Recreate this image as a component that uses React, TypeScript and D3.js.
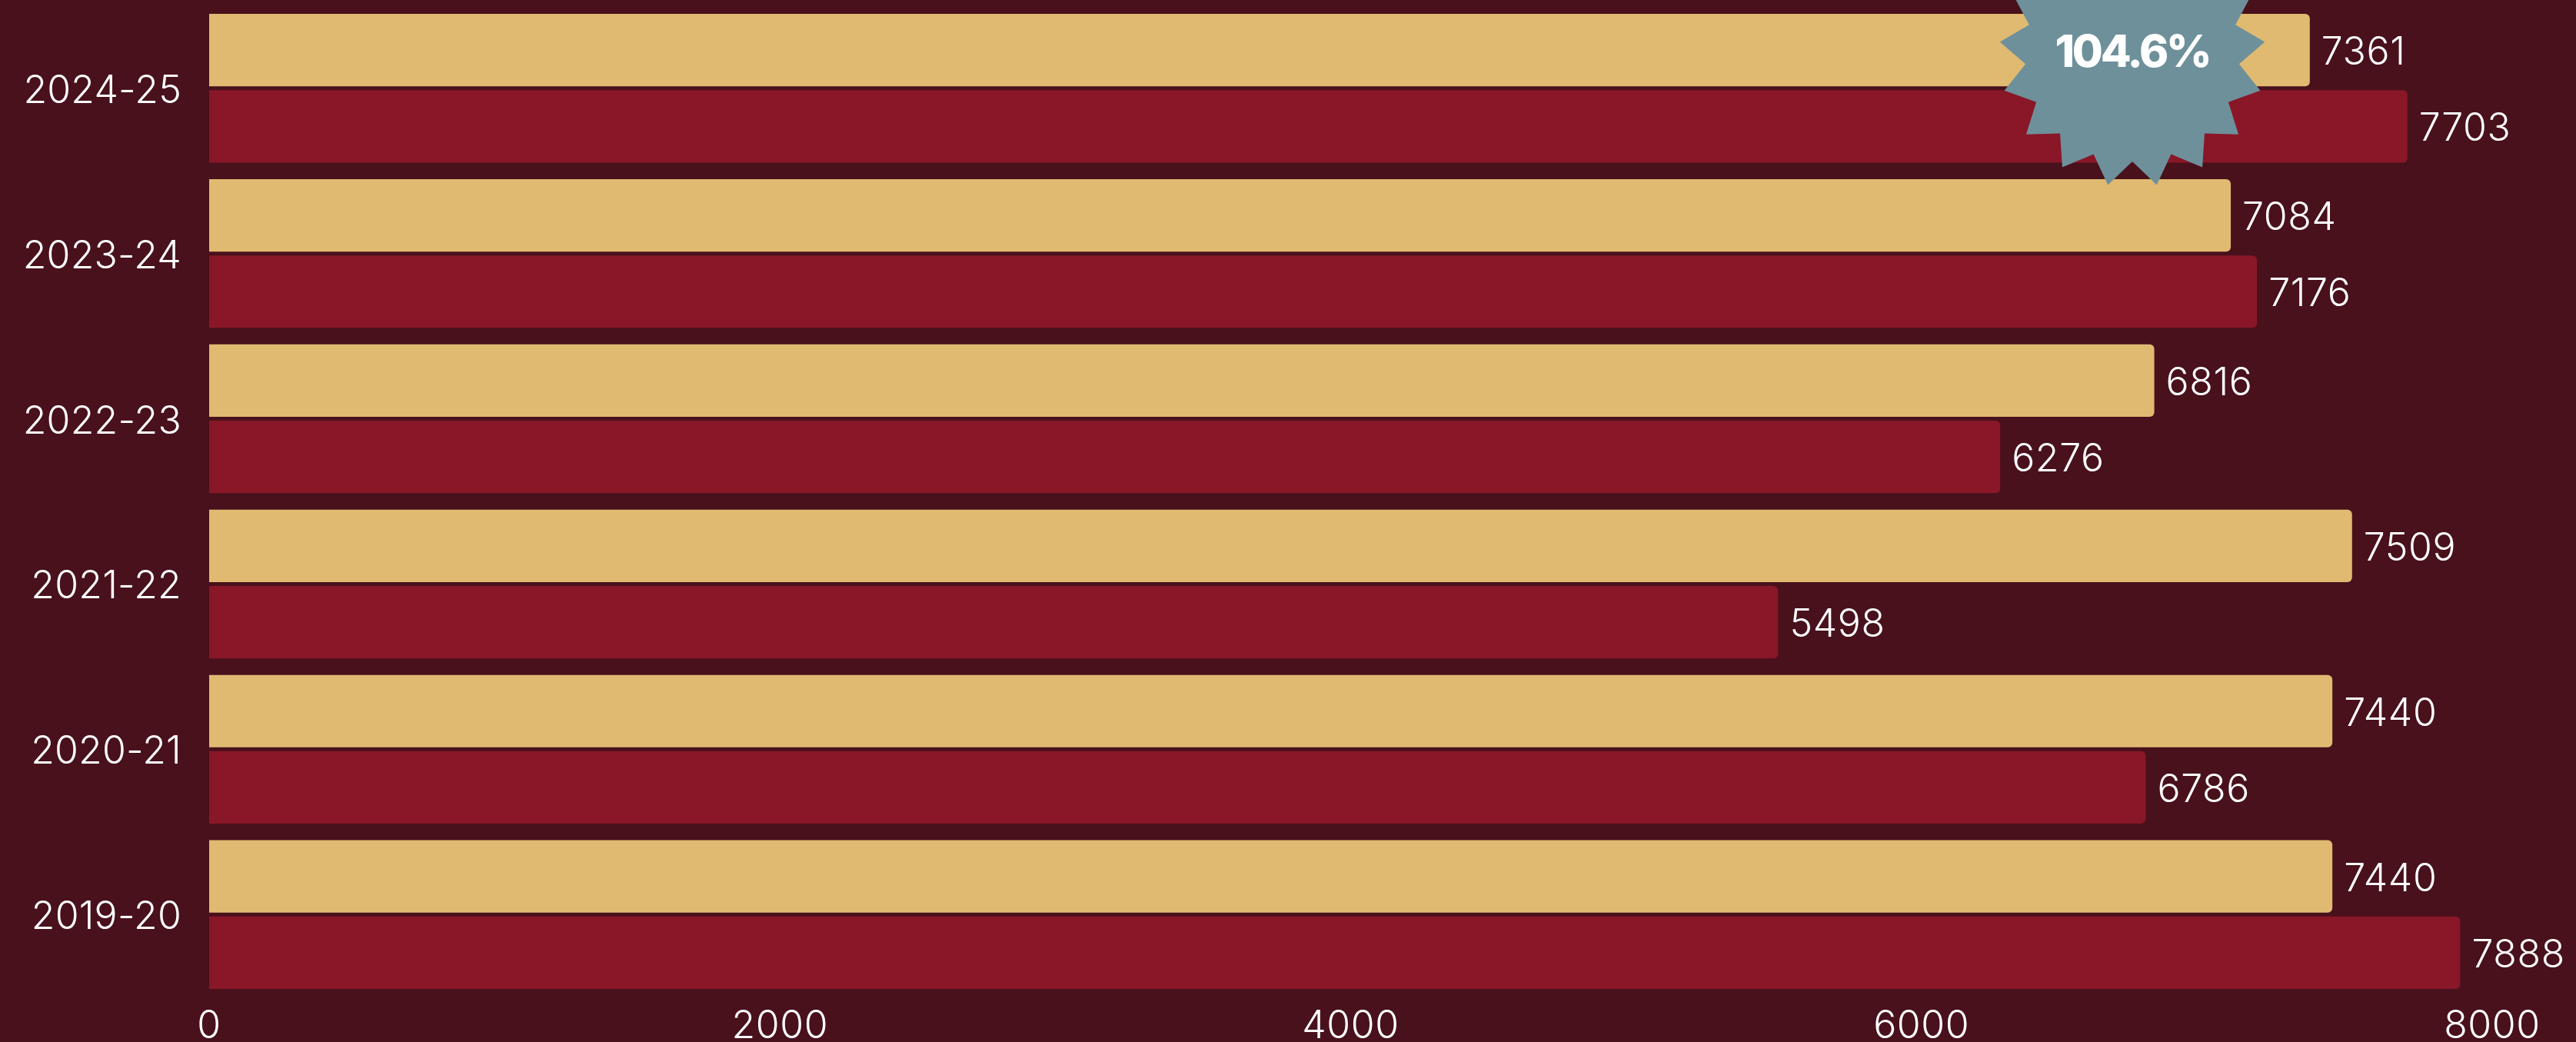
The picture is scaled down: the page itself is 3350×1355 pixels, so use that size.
import React from "react";
import * as d3 from "d3";

const categories = ["2024-25", "2023-24", "2022-23", "2021-22", "2020-21", "2019-20"];
const seriesGold = [7361, 7084, 6816, 7509, 7440, 7440];
const seriesRed = [7703, 7176, 6276, 5498, 6786, 7888];
const xTicks = [0, 2000, 4000, 6000, 8000];
const badgeText = "104.6%";

const W = 3350;
const H = 1355;
const BG = "#48111C";
const GOLD = "#E0BA71";
const RED = "#891728";
const STAR = "#6E909B";
const FONT = "Inter, 'Noto Sans', sans-serif";

function barPath(x0: number, x1: number, y0: number, h: number, r: number) {
  const p = d3.path();
  p.moveTo(x0, y0);
  p.lineTo(x1 - r, y0);
  p.arcTo(x1, y0, x1, y0 + r, r);
  p.lineTo(x1, y0 + h - r);
  p.arcTo(x1, y0 + h, x1 - r, y0 + h, r);
  p.lineTo(x0, y0 + h);
  p.closePath();
  return p.toString();
}

function starPath(points: number, outer: number, inner: number) {
  const step = Math.PI / points;
  const pts = d3
    .range(points * 2)
    .map((i) => [Math.PI + (i + 1) * step, i % 2 === 0 ? outer : inner] as [number, number]);
  return d3.lineRadial().curve(d3.curveLinearClosed)(pts) as string;
}

export default function App() {
  const x = d3.scaleLinear().domain([0, 8000]).range([272, 3241]);
  const y = d3
    .scaleBand<string>()
    .domain(categories)
    .range([7.3, 1296.7])
    .paddingInner(0.1)
    .paddingOuter(0.05);
  const sub = d3
    .scaleBand<string>()
    .domain(["gold", "red"])
    .range([0, y.bandwidth()])
    .paddingInner(0.05);

  const series = [
    { key: "gold", values: seriesGold, color: GOLD },
    { key: "red", values: seriesRed, color: RED },
  ];

  return (
    <svg
      width={W}
      height={H}
      viewBox={`0 0 ${W} ${H}`}
      style={{ position: "absolute", left: 0, top: 0, display: "block", background: BG }}
      fontFamily={FONT}
    >
      <rect width={W} height={H} fill={BG} />
      {categories.map((c) => (
        <text
          key={c}
          x={236}
          y={y(c)! + y.bandwidth() / 2 + 1}
          dy="0.36em"
          textAnchor="end"
          fill="#fff"
          fontSize={50}
          fontWeight={300}
          letterSpacing={0.2}
        >
          {c}
        </text>
      ))}
      {series.map((s) =>
        s.values.map((v, i) => {
          const top = y(categories[i])! + sub(s.key)!;
          const h = sub.bandwidth();
          return (
            <g key={s.key + i}>
              <path d={barPath(x(0), x(v), top, h, 6)} fill={s.color} />
              <text
                x={x(v) + 15}
                y={top + h / 2 + 1}
                dy="0.36em"
                fill="#fff"
                fontSize={50}
                fontWeight={300}
                letterSpacing={0.6}
              >
                {v}
              </text>
            </g>
          );
        })
      )}
      {xTicks.map((t) => (
        <text
          key={t}
          x={x(t)}
          y={1332}
          dy="0.36em"
          textAnchor="middle"
          fill="#fff"
          fontSize={50}
          fontWeight={300}
          letterSpacing={0.6}
        >
          {t}
        </text>
      ))}
      <g transform="translate(2773,70.5)">
        <path d={starPath(17, 173, 139.5)} fill={STAR} />
        <text
          x={0}
          y={-4.5}
          dy="0.36em"
          textAnchor="middle"
          fill="#fff"
          fontSize={58}
          fontWeight={800}
          letterSpacing={-3.2}
        >
          {badgeText}
        </text>
      </g>
    </svg>
  );
}
